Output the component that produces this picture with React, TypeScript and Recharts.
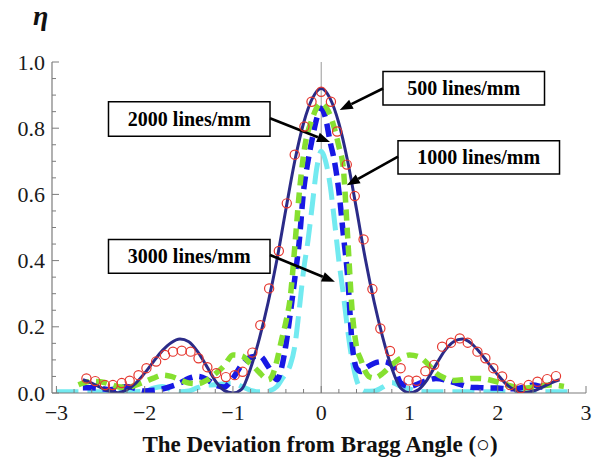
import React from 'react';
import {
  ComposedChart, Line, Scatter, XAxis, YAxis, ReferenceLine, ReferenceArea,
} from 'recharts';

const FRAME = '#7c7c7c';
const SERIF = '"Liberation Serif", "Times New Roman", serif';

// tick labels
const xMajorTicks = [-3, -2, -1, 0, 1, 2, 3];
const yMajorTicks = [0, 0.2, 0.4, 0.6, 0.8, 1.0];
const xAllTicks = Array.from({ length: 31 }, (_, i) => +(-3 + i * 0.2).toFixed(2));
const yAllTicks = Array.from({ length: 21 }, (_, i) => +(i * 0.05).toFixed(2));

// 500 lines/mm (solid navy)
const navyX = [-2.7, -2.6, -2.5, -2.4, -2.3, -2.2, -2.1, -2.0, -1.9, -1.8, -1.7, -1.6, -1.5, -1.4, -1.3, -1.2, -1.1, -1.0, -0.9, -0.8, -0.7, -0.6, -0.5, -0.4, -0.3, -0.2, -0.1, 0, 0.1, 0.2, 0.3, 0.4, 0.5, 0.6, 0.7, 0.8, 0.9, 1.0, 1.1, 1.2, 1.3, 1.4, 1.5, 1.6, 1.7, 1.8, 1.9, 2.0, 2.1, 2.2, 2.3, 2.4, 2.5, 2.6, 2.7];
const navyY = [0.04, 0.03, 0.017, 0.006, 0.001, 0.01, 0.03, 0.06, 0.095, 0.128, 0.152, 0.163, 0.155, 0.125, 0.082, 0.037, 0.008, 0.0, 0.012, 0.075, 0.165, 0.275, 0.405, 0.555, 0.7, 0.815, 0.89, 0.92, 0.89, 0.815, 0.7, 0.555, 0.405, 0.275, 0.165, 0.075, 0.015, 0.001, 0.01, 0.04, 0.085, 0.128, 0.155, 0.163, 0.15, 0.122, 0.088, 0.055, 0.026, 0.008, 0.001, 0.006, 0.017, 0.03, 0.04];

// measured points (red circles)
const circX = [-2.66, -2.56, -2.45, -2.36, -2.26, -2.17, -2.07, -1.98, -1.87, -1.77, -1.68, -1.58, -1.48, -1.39, -1.29, -1.19, -1.08, -0.98, -0.89, -0.78, -0.69, -0.59, -0.48, -0.39, -0.3, -0.19, -0.11, 0, 0.11, 0.18, 0.29, 0.38, 0.48, 0.58, 0.67, 0.78, 0.9, 0.99, 1.08, 1.18, 1.28, 1.37, 1.47, 1.57, 1.66, 1.77, 1.86, 1.95, 2.05, 2.14, 2.26, 2.35, 2.45, 2.56, 2.66];
const circY = [0.044, 0.036, 0.024, 0.024, 0.03, 0.037, 0.054, 0.075, 0.095, 0.115, 0.125, 0.128, 0.125, 0.105, 0.078, 0.06, 0.048, 0.054, 0.064, 0.122, 0.205, 0.316, 0.429, 0.573, 0.72, 0.805, 0.88, 0.91, 0.88, 0.79, 0.69, 0.595, 0.464, 0.314, 0.195, 0.127, 0.075, 0.038, 0.037, 0.066, 0.085, 0.14, 0.152, 0.165, 0.152, 0.125, 0.105, 0.075, 0.05, 0.024, 0.014, 0.024, 0.034, 0.042, 0.051];

// 1000 lines/mm (green dashed)
const greenX = [-2.75, -2.7, -2.6, -2.5, -2.4, -2.3, -2.2, -2.1, -2.0, -1.9, -1.8, -1.7, -1.6, -1.5, -1.4, -1.3, -1.2, -1.1, -1.0, -0.9, -0.8, -0.7, -0.65, -0.6, -0.55, -0.5, -0.45, -0.4, -0.35, -0.3, -0.25, -0.2, -0.1, 0, 0.1, 0.2, 0.25, 0.3, 0.35, 0.4, 0.45, 0.5, 0.55, 0.6, 0.7, 0.8, 0.9, 1.0, 1.1, 1.2, 1.3, 1.4, 1.5, 1.6, 1.7, 1.8, 1.9, 2.0, 2.1, 2.2, 2.3, 2.4, 2.5, 2.6, 2.7, 2.75];
const greenY = [0.025, 0.03, 0.035, 0.034, 0.027, 0.019, 0.017, 0.024, 0.034, 0.045, 0.054, 0.05, 0.04, 0.03, 0.028, 0.038, 0.058, 0.082, 0.115, 0.112, 0.088, 0.062, 0.048, 0.04, 0.055, 0.1, 0.16, 0.215, 0.29, 0.44, 0.6, 0.72, 0.83, 0.875, 0.84, 0.745, 0.68, 0.47, 0.25, 0.14, 0.1, 0.065, 0.048, 0.045, 0.06, 0.085, 0.105, 0.115, 0.11, 0.09, 0.06, 0.045, 0.038, 0.04, 0.044, 0.044, 0.04, 0.033, 0.025, 0.018, 0.015, 0.018, 0.022, 0.024, 0.022, 0.02];

// 2000 lines/mm (blue dashed)
const blueX = [-2.7, -2.6, -2.5, -2.4, -2.3, -2.2, -2.1, -2.0, -1.9, -1.8, -1.7, -1.6, -1.5, -1.4, -1.3, -1.2, -1.1, -1.0, -0.9, -0.8, -0.7, -0.6, -0.5, -0.45, -0.4, -0.35, -0.3, -0.25, -0.2, -0.15, -0.1, -0.05, 0, 0.05, 0.1, 0.15, 0.2, 0.25, 0.3, 0.35, 0.4, 0.45, 0.5, 0.6, 0.7, 0.8, 0.85, 0.9, 1.0, 1.1, 1.2, 1.3, 1.4, 1.5, 1.6, 1.7, 1.8, 1.9, 2.0, 2.1, 2.2, 2.3, 2.4, 2.5, 2.55];
const blueY = [0.016, 0.016, 0.014, 0.01, 0.014, 0.02, 0.013, 0.006, 0.008, 0.012, 0.02, 0.03, 0.044, 0.05, 0.042, 0.024, 0.018, 0.045, 0.085, 0.108, 0.112, 0.08, 0.04, 0.075, 0.145, 0.24, 0.345, 0.455, 0.61, 0.7, 0.77, 0.83, 0.86, 0.83, 0.76, 0.7, 0.61, 0.48, 0.35, 0.15, 0.075, 0.065, 0.075, 0.09, 0.095, 0.085, 0.06, 0.03, 0.02, 0.028, 0.038, 0.044, 0.04, 0.032, 0.024, 0.017, 0.016, 0.015, 0.015, 0.013, 0.013, 0.018, 0.024, 0.018, 0.015];

// 3000 lines/mm (cyan long dashes)
const cyanX = [-3.0, -2.8, -2.6, -2.4, -2.2, -2.0, -1.9, -1.8, -1.7, -1.6, -1.5, -1.4, -1.3, -1.2, -1.1, -1.0, -0.9, -0.8, -0.7, -0.6, -0.5, -0.45, -0.4, -0.35, -0.3, -0.25, -0.2, -0.15, -0.1, -0.05, 0, 0.05, 0.1, 0.15, 0.2, 0.25, 0.3, 0.35, 0.4, 0.45, 0.5, 0.6, 0.7, 0.8, 0.9, 1.0, 1.1, 1.2, 1.4, 1.6, 1.8, 2.0, 2.2, 2.4, 2.6, 2.8];
const cyanY = [0.004, 0.004, 0.004, 0.004, 0.004, 0.005, 0.015, 0.02, 0.01, 0.004, 0.006, 0.016, 0.024, 0.025, 0.028, 0.03, 0.02, 0.008, 0.004, 0.006, 0.02, 0.04, 0.06, 0.085, 0.14, 0.25, 0.37, 0.46, 0.57, 0.68, 0.73, 0.7, 0.63, 0.52, 0.4, 0.3, 0.19, 0.1, 0.04, 0.012, 0.005, 0.006, 0.018, 0.032, 0.02, 0.012, 0.005, 0.004, 0.004, 0.004, 0.004, 0.004, 0.004, 0.004, 0.004, 0.004];

// annotations
const labelBoxes = [
  { text: '500 lines/mm', x1: 0.7, x2: 2.53, y1: 0.87, y2: 0.971 },
  { text: '1000 lines/mm', x1: 0.87, x2: 2.7, y1: 0.662, y2: 0.762 },
  { text: '2000 lines/mm', x1: -2.41, x2: -0.58, y1: 0.776, y2: 0.88 },
  { text: '3000 lines/mm', x1: -2.41, x2: -0.58, y1: 0.362, y2: 0.464 },
];
const arrows = [
  { from: [0.7, 0.92], to: [0.21, 0.855] },
  { from: [0.87, 0.714], to: [0.29, 0.628] },
  { from: [-0.58, 0.83], to: [0.1, 0.758] },
  { from: [-0.58, 0.417], to: [0.155, 0.336] },
];

const pts = (xs: number[], ys: number[]) => xs.map((x, i) => ({ x, y: ys[i] }));

const isMajor = (v: number, list: number[]) => list.some((m) => Math.abs(m - v) < 1e-6);
const fmtX = (v: number) => (v < 0 ? '\u2212' + Math.abs(v) : String(v));

const tickStyle = { fontFamily: SERIF, fontSize: 22 };

const BottomTick = (p: any) => {
  const v = p.payload.value;
  const major = isMajor(v, xMajorTicks);
  return (
    <g>
      <line x1={p.x} y1={p.y} x2={p.x} y2={p.y - (major ? 7 : 4)} stroke={FRAME} />
      {major && (
        <text x={p.x} y={p.y + 27} textAnchor="middle" fill="#1a1a1a" style={tickStyle}>{fmtX(v)}</text>
      )}
    </g>
  );
};
const TopTick = (p: any) => {
  const major = isMajor(p.payload.value, xMajorTicks);
  return <line x1={p.x} y1={p.y} x2={p.x} y2={p.y + (major ? 7 : 4)} stroke={FRAME} />;
};
const LeftTick = (p: any) => {
  const v = p.payload.value;
  const major = isMajor(v, yMajorTicks);
  return (
    <g>
      <line x1={p.x} y1={p.y} x2={p.x + (major ? 7 : 4)} y2={p.y} stroke={FRAME} />
      {major && (
        <text x={p.x - 7} y={p.y + 7.5} textAnchor="end" fill="#1a1a1a" style={tickStyle}>{v.toFixed(1)}</text>
      )}
    </g>
  );
};
const RightTick = (p: any) => {
  const major = isMajor(p.payload.value, yMajorTicks);
  return <line x1={p.x} y1={p.y} x2={p.x - (major ? 7 : 4)} y2={p.y} stroke={FRAME} />;
};

const ArrowShape = (p: any) => {
  const { x1, y1, x2, y2 } = p;
  const dx = x2 - x1;
  const dy = y2 - y1;
  const len = Math.sqrt(dx * dx + dy * dy) || 1;
  const ux = dx / len;
  const uy = dy / len;
  const hl = 13;
  const hw = 5;
  const bx = x2 - ux * hl;
  const by = y2 - uy * hl;
  return (
    <g>
      <line x1={x1} y1={y1} x2={bx} y2={by} stroke="#000" strokeWidth={2.6} />
      <polygon
        points={`${x2},${y2} ${bx - uy * hw},${by + ux * hw} ${bx + uy * hw},${by - ux * hw}`}
        fill="#000"
      />
    </g>
  );
};

const RedCircle = (p: any) => (
  <circle cx={p.cx} cy={p.cy} r={4.6} fill="none" stroke="#e5372f" strokeWidth={1.2} />
);

export default function App() {
  return (
    <div style={{ position: 'absolute', left: 0, top: 0, width: 599, height: 465, background: '#fff' }}>
      <ComposedChart width={599} height={465} margin={{ top: 62, right: 13, bottom: 0, left: 0 }}>
        <XAxis
          xAxisId={0} dataKey="x" type="number" domain={[-3.05, 3]} ticks={xAllTicks} interval={0}
          height={72} tickSize={0} tickMargin={0} tickLine={false} tick={BottomTick}
          axisLine={{ stroke: FRAME, strokeWidth: 1.2 }} allowDataOverflow
        />
        <XAxis
          xAxisId="top" orientation="top" type="number" domain={[-3.05, 3]} ticks={xAllTicks} interval={0}
          height={0} tickSize={0} tickMargin={0} tickLine={false} tick={TopTick}
          axisLine={{ stroke: FRAME, strokeWidth: 1.2 }} allowDataOverflow
        />
        <YAxis
          yAxisId={0} type="number" domain={[0, 1]} ticks={yAllTicks} interval={0}
          width={52} tickSize={0} tickMargin={0} tickLine={false} tick={LeftTick}
          axisLine={{ stroke: FRAME, strokeWidth: 1.2 }} allowDataOverflow
        />
        <YAxis
          yAxisId="right" orientation="right" type="number" domain={[0, 1]} ticks={yAllTicks} interval={0}
          width={0} tickSize={0} tickMargin={0} tickLine={false} tick={RightTick}
          axisLine={{ stroke: FRAME, strokeWidth: 1.2 }} allowDataOverflow
        />
        <ReferenceLine x={0} stroke="#9a9a9a" strokeWidth={1} />

        <Line data={pts(cyanX, cyanY)} dataKey="y" type="monotone" stroke="#72eaf0" strokeWidth={5}
          strokeDasharray="22 9" dot={false} activeDot={false} isAnimationActive={false} />
        <Line data={pts(blueX, blueY)} dataKey="y" type="monotone" stroke="#1818e4" strokeWidth={5.5}
          strokeDasharray="13 7" dot={false} activeDot={false} isAnimationActive={false} />
        <Line data={pts(greenX, greenY)} dataKey="y" type="monotone" stroke="#86e030" strokeWidth={5.5}
          strokeDasharray="11 7" dot={false} activeDot={false} isAnimationActive={false} />
        <Line data={pts(navyX, navyY)} dataKey="y" type="monotone" stroke="#2b2b88" strokeWidth={3}
          dot={false} activeDot={false} isAnimationActive={false} />
        <Scatter data={pts(circX, circY)} dataKey="y" shape={RedCircle} isAnimationActive={false} />

        {labelBoxes.map((b) => (
          <ReferenceArea
            key={b.text} x1={b.x1} x2={b.x2} y1={b.y1} y2={b.y2}
            fill="#fff" fillOpacity={1} stroke="#000" strokeWidth={1.5}
            label={{
              value: b.text, position: 'center', fill: '#000', fontSize: 20,
              fontWeight: 'bold', fontFamily: SERIF,
            }}
          />
        ))}
        {arrows.map((a, i) => (
          <ReferenceLine
            key={i}
            segment={[{ x: a.from[0], y: a.from[1] }, { x: a.to[0], y: a.to[1] }]}
            shape={ArrowShape}
          />
        ))}
      </ComposedChart>
      <div style={{
        position: 'absolute', left: 33, top: 1, fontFamily: SERIF, fontSize: 28,
        fontWeight: 'bold', fontStyle: 'italic', lineHeight: '30px', color: '#111',
      }}>
        η
      </div>
      <div style={{
        position: 'absolute', left: 120, top: 433, width: 400, textAlign: 'center',
        fontFamily: SERIF, fontSize: 23, fontWeight: 'bold', lineHeight: '23px',
        color: '#111', whiteSpace: 'nowrap',
      }}>
        The Deviation from Bragg Angle (○)
      </div>
    </div>
  );
}
